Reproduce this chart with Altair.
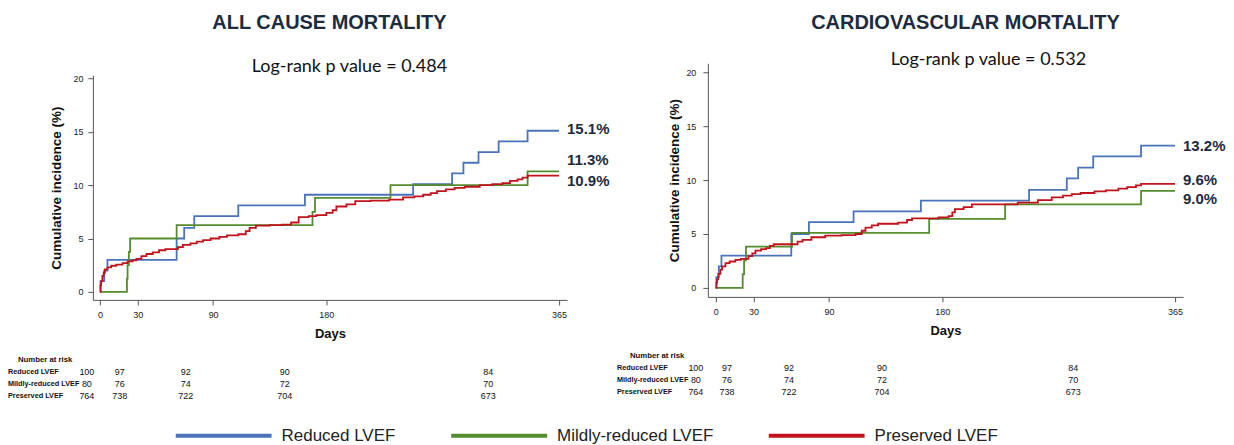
import altair as alt
import pandas as pd

# ---------------- data ----------------
SERIES = ["Reduced LVEF", "Mildly-reduced LVEF", "Preserved LVEF"]
COLORS = ["#4a73b9", "#558c2f", "#c1121b"]
X_TICKS = [0, 30, 90, 180, 365]
Y_TICKS = [0, 5, 10, 15, 20]

# Number at risk (same in both panels)
RISK_DAYS = [0, 30, 90, 180, 365]
RISK_REDUCED = [100, 97, 92, 90, 84]
RISK_MILD = [80, 76, 74, 72, 70]
RISK_PRESERVED = [764, 738, 722, 704, 673]

# ---- All cause mortality ----
ac_reduced_day = [0, 0.5, 3.4, 6, 61, 67, 75, 110, 163, 249, 280, 289, 301, 317, 340, 365]
ac_reduced_pct = [0, 1.0, 2.0, 3.0, 5.0, 6.0, 7.1, 8.1, 9.1, 10.1, 11.1, 12.1, 13.1, 14.1, 15.1, 15.1]
ac_mild_day = [0, 21.5, 22, 23, 24, 61, 169, 171, 231, 340, 365]
ac_mild_pct = [0, 1.25, 2.5, 3.75, 5.0, 6.25, 7.5, 8.8, 10.0, 11.3, 11.3]
ac_pres_day = [0, 0.5, 1, 2, 3, 4, 6, 9, 13, 18, 22, 26, 29, 33, 37, 42, 47, 52, 62, 66,
               72, 77, 82, 88, 95, 101, 110, 116, 119, 124, 135, 145, 152, 158, 166, 172, 180, 185, 188, 196,
               203, 215, 230, 241, 250, 257, 263, 268, 275, 282, 290, 302, 312, 320, 326, 332, 336, 340, 365]
ac_pres_pct = [0, 0.6, 1.0, 1.5, 1.8, 2.1, 2.3, 2.45, 2.55, 2.7, 2.85, 2.95, 3.1, 3.35, 3.55, 3.7, 3.9, 4.0, 4.2, 4.4,
               4.55, 4.7, 4.85, 5.0, 5.15, 5.3, 5.4, 5.7, 6.0, 6.2, 6.25, 6.3, 6.5, 7.0, 7.1, 7.2, 7.4, 7.65, 8.0, 8.2,
               8.5, 8.55, 8.65, 8.85, 8.95, 9.1, 9.25, 9.45, 9.6, 9.75, 9.85, 10.0, 10.1, 10.2, 10.4, 10.55, 10.7, 10.9, 10.9]
ac_final = [15.1, 11.3, 10.9]

# ---- Cardiovascular mortality ----
cv_reduced_day = [0, 0.5, 2.4, 4.5, 60, 74, 109.5, 163, 249, 279, 288, 300, 338, 365]
cv_reduced_pct = [0, 1.0, 2.0, 3.0, 5.0, 6.1, 7.1, 8.1, 9.1, 10.15, 11.15, 12.2, 13.2, 13.2]
cv_mild_day = [0, 21.4, 22.5, 24, 60.6, 169.6, 230, 338, 365]
cv_mild_pct = [0, 1.28, 2.55, 3.83, 5.1, 6.4, 7.75, 9.0, 9.0]
cv_pres_day = [0, 0.5, 1, 2, 3.7, 5, 7.7, 11, 15.6, 20, 26, 29, 31.5, 36, 40, 43, 46, 65, 69, 76,
               87, 100, 111, 116, 119, 124, 129, 145, 152, 156, 177, 185, 188, 190, 197, 203.5, 240, 256, 267, 276,
               283, 290, 301, 310, 320, 327, 334, 338, 365]
cv_pres_pct = [0, 0.5, 0.8, 1.3, 1.7, 2.0, 2.3, 2.45, 2.6, 2.7, 2.95, 3.2, 3.45, 3.6, 3.7, 3.9, 4.05, 4.3, 4.45, 4.7,
               4.85, 4.9, 5.0, 5.3, 5.6, 5.8, 5.95, 6.05, 6.3, 6.45, 6.55, 6.65, 7.0, 7.3, 7.5, 7.75, 7.9, 8.15, 8.4, 8.55,
               8.7, 8.8, 8.95, 9.05, 9.2, 9.35, 9.5, 9.65, 9.65]
cv_final = [13.2, 9.0, 9.6]

# ---------------- styling ----------------
NAVY = "#1d2b3e"
SANS = "Liberation Sans"


def panel(curves, finals, dys, title, subtitle, width, height, xdom, ydom, yrange,
          title_pos, sub_pos, table_xrange, table_yrange, header_pos, rowlab_x,
          ytitle_pad, ylabel_pad, legend):
    frames = [pd.DataFrame({"day": d, "pct": p, "group": name})
              for name, (d, p) in zip(SERIES, curves)]
    df = pd.concat(frames, ignore_index=True)
    xs = alt.Scale(domain=xdom, nice=False, zero=False)
    ys = alt.Scale(domain=ydom, range=yrange, nice=False, zero=False)

    lines = alt.Chart(df).mark_line(interpolate="step-after", strokeWidth=1.8).encode(
        x=alt.X("day:Q", scale=xs,
                axis=alt.Axis(values=X_TICKS, title="Days", labelFlush=False, labelOverlap=False,
                              grid=False, tickSize=5, labelPadding=6, titlePadding=8,
                              domainColor="#555", tickColor="#555", labelFont=SANS, labelFontSize=9,
                              labelColor="#222", titleFont=SANS, titleFontSize=13,
                              titleFontWeight="bold", titleColor="#111")),
        y=alt.Y("pct:Q", scale=ys,
                axis=alt.Axis(values=Y_TICKS, title="Cumulative incidence (%)", grid=False, tickSize=5,
                              labelPadding=ylabel_pad, titlePadding=ytitle_pad,
                              domainColor="#555", tickColor="#555", labelFont=SANS, labelFontSize=9,
                              labelColor="#222", titleFont=SANS, titleFontSize=13.5,
                              titleFontWeight="bold", titleColor="#111")),
        color=alt.Color("group:N", scale=alt.Scale(domain=SERIES, range=COLORS), legend=legend),
    )
    layers = [lines]
    for name, v, dy in zip(SERIES, finals, dys):
        ldf = pd.DataFrame({"day": [365], "pct": [v], "lab": [f"{v:.1f}%"]})
        layers.append(
            alt.Chart(ldf).mark_text(align="left", baseline="middle", dx=8, dy=dy, fontSize=15,
                                     fontWeight="bold", font=SANS, color=NAVY).encode(
                x=alt.X("day:Q", scale=xs), y=alt.Y("pct:Q", scale=ys), text="lab:N"))
    layers.append(
        alt.Chart(pd.DataFrame({"t": [title]})).mark_text(
            align="center", baseline="alphabetic", fontSize=20, fontWeight="bold",
            font=SANS, color=NAVY).encode(
            text="t:N", x=alt.value(title_pos[0]), y=alt.value(title_pos[1])))
    layers.append(
        alt.Chart(pd.DataFrame({"t": [subtitle]})).mark_text(
            align="center", baseline="middle", fontSize=18, font="Lato", color="#111").encode(
            text="t:N", x=alt.value(sub_pos[0]), y=alt.value(sub_pos[1])))
    plot = alt.layer(*layers)

    rows = []
    for name, counts in zip(SERIES, [RISK_REDUCED, RISK_MILD, RISK_PRESERVED]):
        for d, n in zip(RISK_DAYS, counts):
            rows.append({"day": d, "row": name, "n": n})
    tdf = pd.DataFrame(rows)
    ty = alt.Scale(type="point", domain=SERIES, range=table_yrange, padding=0)
    nums = alt.Chart(tdf).mark_text(fontSize=9, font=SANS, color="#111", baseline="middle").encode(
        x=alt.X("day:Q", scale=alt.Scale(domain=[0, 365], range=table_xrange, nice=False), axis=None),
        y=alt.Y("row:N", scale=ty, axis=None),
        text="n:Q")
    rowlabs = alt.Chart(pd.DataFrame({"row": SERIES})).mark_text(
        align="left", baseline="middle", fontSize=7.3, fontWeight="bold", font=SANS, color="#111").encode(
        x=alt.value(rowlab_x), y=alt.Y("row:N", scale=ty, axis=None), text="row:N")
    header = alt.Chart(pd.DataFrame({"t": ["Number at risk"]})).mark_text(
        align="left", baseline="middle", fontSize=7.8, fontWeight="bold", font=SANS, color="#111").encode(
        text="t:N", x=alt.value(header_pos[0]), y=alt.value(header_pos[1]))
    table = alt.layer(nums, rowlabs, header)

    return alt.layer(plot, table).resolve_scale(x="independent", y="independent").properties(
        width=width, height=height)


legend = alt.Legend(orient="none", legendX=117, legendY=359, direction="horizontal", title=None,
                    symbolType="M-4,0H4", symbolSize=576, symbolStrokeWidth=4,
                    labelFontSize=17, labelFont=SANS, labelColor="#222", labelOffset=44,
                    columnPadding=47, labelLimit=400, padding=0)

left = panel(
    [(ac_reduced_day, ac_reduced_pct), (ac_mild_day, ac_mild_pct), (ac_pres_day, ac_pres_pct)],
    ac_final, [-2, -11, 5],
    "ALL CAUSE MORTALITY", "Log-rank p value = 0.484",
    475, 237, [-5.6, 371.4], [-0.75, 20.3], [237, 12],
    (237, -34), (257, 4), [-6, 396], [309, 333], (-75, 297), -85,
    9, 5, legend)

right = panel(
    [(cv_reduced_day, cv_reduced_pct), (cv_mild_day, cv_mild_pct), (cv_pres_day, cv_pres_pct)],
    cv_final, [0, 8, -4],
    "CARDIOVASCULAR MORTALITY", "Log-rank p value = 0.532",
    476, 234, [-6.3, 371.4], [-0.83, 20.83], [234, 0],
    (258, -34), (281, -3), [-12, 366], [305, 329], (-78, 293), -91,
    4, 7, None)

chart = alt.hconcat(left, right, spacing=141, bounds="flush").resolve_scale(
    color="independent").resolve_legend(color="independent").properties(
    padding={"left": 0, "top": 5, "right": 0, "bottom": 0}, background="white"
).configure_view(stroke=None)

chart.save("out.html", embed_options={"renderer": "svg", "actions": False})
